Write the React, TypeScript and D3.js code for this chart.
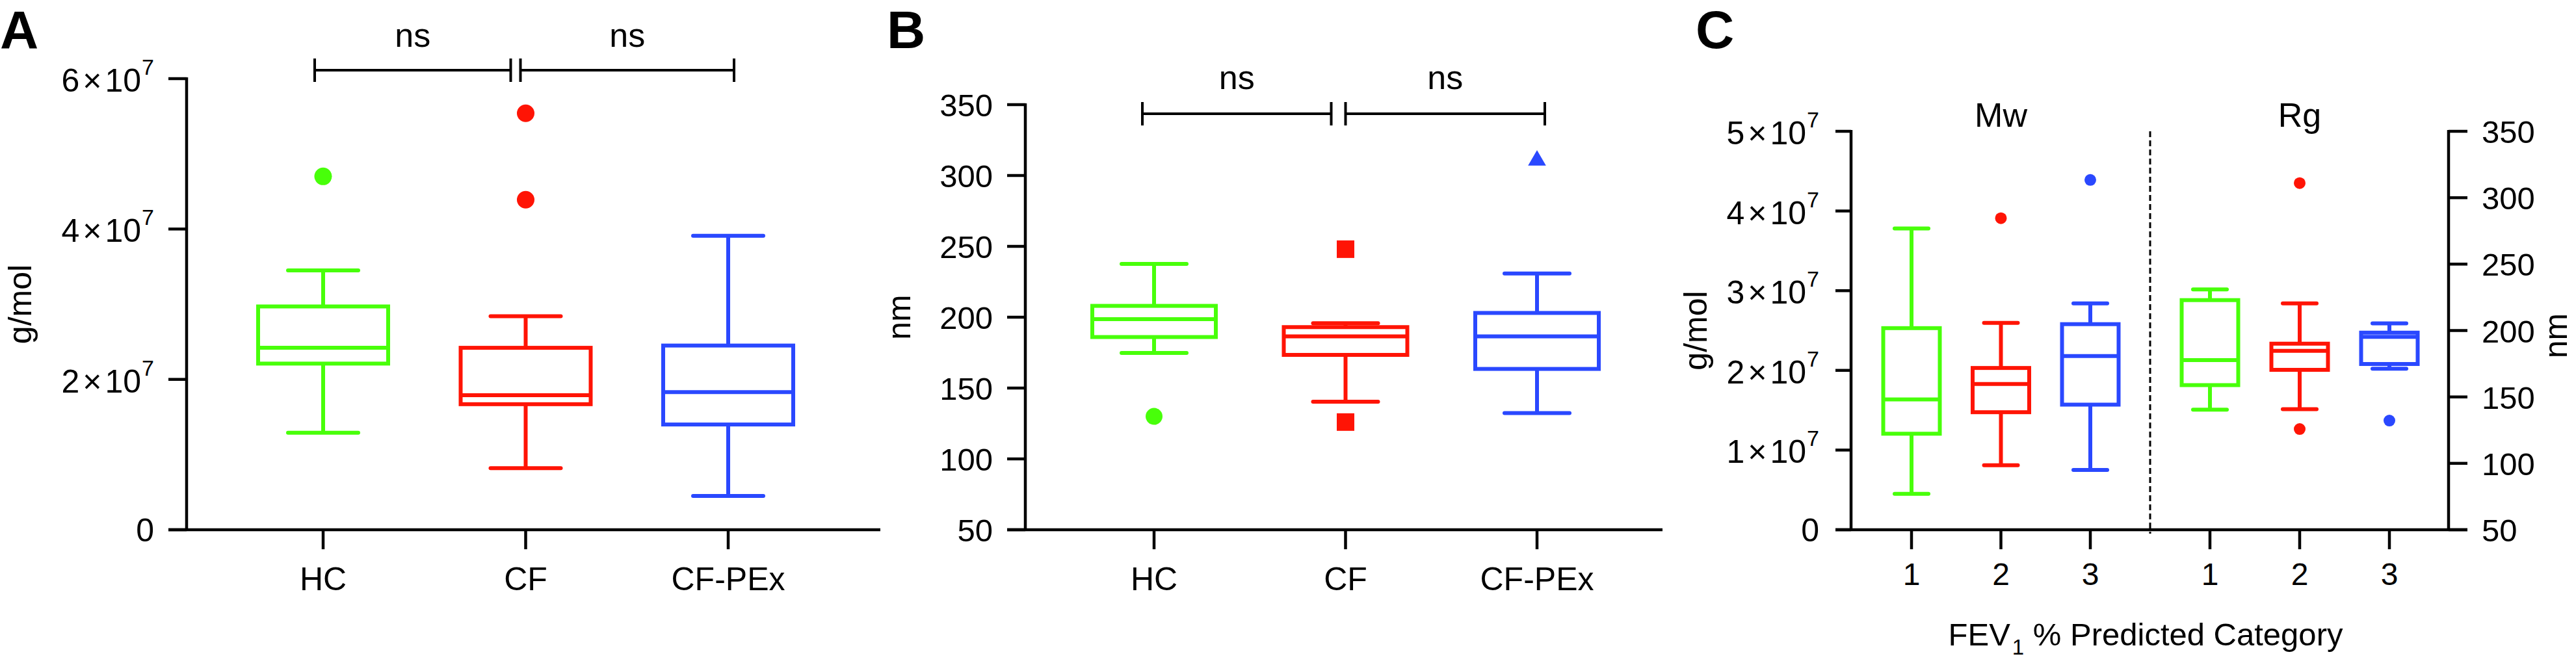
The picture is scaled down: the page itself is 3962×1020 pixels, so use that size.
import React from "react";
import * as d3 from "d3";

// ---------- DATA ----------
const groups = ["HC", "CF", "CF-PEx"];
const groupColors = ["#48ff0a", "#ff1405", "#2a48ff"];

// Panel A: Mw (g/mol)
const mwMin = [12.9e6, 8.2e6, 4.5e6];
const mwQ1 = [22.1e6, 16.7e6, 14.0e6];
const mwMed = [24.2e6, 17.9e6, 18.3e6];
const mwQ3 = [29.7e6, 24.2e6, 24.5e6];
const mwMax = [34.5e6, 28.4e6, 39.1e6];
const mwOutliers = [[47.0e6], [55.4e6, 43.9e6], []];
const mwTicks = [0, 2e7, 4e7, 6e7];

// Panel B: Rg (nm)
const rgMin = [174.8, 140.4, 132.3];
const rgQ1 = [186.0, 173.4, 163.5];
const rgMed = [198.6, 186.5, 186.5];
const rgQ3 = [208.0, 193.0, 203.0];
const rgMax = [237.6, 195.7, 230.8];
const rgOutliers = [[130], [248, 126], [310.6]];
const rgShapes = ["circle", "square", "triangle"];
const rgTicks = [50, 100, 150, 200, 250, 300, 350];

// Panel C: by FEV1 % predicted category
const fevCats = ["1", "2", "3"];
const cMwMin = [4.5e6, 8.1e6, 7.5e6];
const cMwQ1 = [12.05e6, 14.75e6, 15.7e6];
const cMwMed = [16.35e6, 18.3e6, 21.8e6];
const cMwQ3 = [25.3e6, 20.3e6, 25.8e6];
const cMwMax = [37.8e6, 25.95e6, 28.4e6];
const cMwOutliers = [[], [39.1e6], [43.9e6]];
const cRgMin = [140.4, 140.8, 171.3];
const cRgQ1 = [158.9, 170.4, 174.8];
const cRgMed = [177.7, 184.7, 195.2];
const cRgQ3 = [222.9, 190.1, 198.4];
const cRgMax = [230.9, 220.4, 205.4];
const cRgOutliers = [[], [311, 125.8], [132.2]];
const cLeftTicks = [0, 1e7, 2e7, 3e7, 4e7, 5e7];
const cRightTicks = [50, 100, 150, 200, 250, 300, 350];

const FONT = "'Liberation Sans', Arial, Helvetica, sans-serif";
const AX = 4.5;
const BOXW = 6;

function SciLabel({ x, y, v, size }) {
  if (v === 0) {
    return (
      <text x={x} y={y + 18} textAnchor="end" fontSize={size} fontFamily={FONT}>
        0
      </text>
    );
  }
  const k = Math.round(v / 1e7);
  return (
    <text x={x} y={y + 20} textAnchor="end" fontSize={size} fontFamily={FONT}>
      <tspan>{k}</tspan>
      <tspan dx={5}>×</tspan>
      <tspan dx={5}>10</tspan>
      <tspan dx={1} dy={-26} fontSize={34}>7</tspan>
    </text>
  );
}

function BoxPlot({ cx, half, capHalf, min, q1, med, q3, max, y, color }) {
  return (
    <g stroke={color} strokeWidth={BOXW} fill="none">
      <line x1={cx} x2={cx} y1={y(max)} y2={y(q3)} />
      <line x1={cx} x2={cx} y1={y(q1)} y2={y(min)} />
      <line x1={cx - capHalf} x2={cx + capHalf} y1={y(max)} y2={y(max)} strokeLinecap="round" />
      <line x1={cx - capHalf} x2={cx + capHalf} y1={y(min)} y2={y(min)} strokeLinecap="round" />
      <rect x={cx - half} y={y(q3)} width={half * 2} height={y(q1) - y(q3)} />
      <line x1={cx - half} x2={cx + half} y1={y(med)} y2={y(med)} />
    </g>
  );
}

function Marker({ shape, x, y, r, color }) {
  if (shape === "circle") return <circle cx={x} cy={y} r={r} fill={color} />;
  const type = shape === "square" ? d3.symbolSquare : d3.symbolTriangle;
  const size = shape === "square" ? 27 * 27 : 330;
  const d = d3.symbol().type(type).size(size)();
  return <path d={d} transform={`translate(${x},${y})`} fill={color} />;
}

function Bracket({ x1, x2, y, h }) {
  return (
    <g stroke="#000" strokeWidth={4} fill="none">
      <line x1={x1} x2={x2} y1={y} y2={y} />
      <line x1={x1} x2={x1} y1={y - h} y2={y + h} />
      <line x1={x2} x2={x2} y1={y - h} y2={y + h} />
    </g>
  );
}

export default function App() {
  // ----- Panel A -----
  const yA = d3.scaleLinear().domain([0, 6e7]).range([815, 121]);
  const xA = d3.scalePoint().domain(groups).range([497, 1120]);
  const axA = 287;

  // ----- Panel B -----
  const yB = d3.scaleLinear().domain([50, 350]).range([815, 161]);
  const xB = d3.scalePoint().domain(groups).range([1775, 2364]);
  const axB = 1577;

  // ----- Panel C -----
  const yCL = d3.scaleLinear().domain([0, 5e7]).range([815, 202]);
  const yCR = d3.scaleLinear().domain([50, 350]).range([815, 202]);
  const xCMw = d3.scalePoint().domain(fevCats).range([2940, 3215]);
  const xCRg = d3.scalePoint().domain(fevCats).range([3399, 3675]);
  const axCL = 2847;
  const axCR = 3766;

  const tickLen = 28;

  return (
    <svg
      width={3962}
      height={1020}
      style={{ position: "absolute", left: 0, top: 0, background: "#fff" }}
      fontFamily={FONT}
    >
      <rect x={0} y={0} width={3962} height={1020} fill="#fff" />

      {/* ================= Panel A ================= */}
      <text x={0} y={74} fontSize={82} fontWeight="bold" fontFamily={FONT}>A</text>
      <g stroke="#000" strokeWidth={AX}>
        <line x1={axA} x2={axA} y1={yA(6e7) - 2} y2={yA(0)} />
        <line x1={axA - tickLen} x2={1354} y1={yA(0)} y2={yA(0)} />
        {mwTicks.map((t) => (
          <line key={t} x1={axA - tickLen} x2={axA} y1={yA(t)} y2={yA(t)} />
        ))}
        {groups.map((g) => (
          <line key={g} x1={xA(g)} x2={xA(g)} y1={yA(0)} y2={yA(0) + 30} />
        ))}
      </g>
      {mwTicks.map((t) => (
        <SciLabel key={t} x={237} y={yA(t)} v={t} size={50} />
      ))}
      {groups.map((g) => (
        <text key={g} x={xA(g)} y={908} textAnchor="middle" fontSize={50}>{g}</text>
      ))}
      <text transform={`translate(31,${(yA(0) + yA(6e7)) / 2}) rotate(-90)`} textAnchor="middle" dominantBaseline="central" fontSize={50}>g/mol</text>
      {groups.map((g, i) => (
        <BoxPlot key={g} cx={xA(g)} half={100} capHalf={54} min={mwMin[i]} q1={mwQ1[i]} med={mwMed[i]} q3={mwQ3[i]} max={mwMax[i]} y={yA} color={groupColors[i]} />
      ))}
      {groups.map((g, i) =>
        mwOutliers[i].map((v, j) => (
          <Marker key={g + j} shape="circle" x={xA(g)} y={yA(v)} r={13.5} color={groupColors[i]} />
        ))
      )}
      <Bracket x1={xA("HC") - 13} x2={xA("CF") - 23} y={108} h={18} />
      <Bracket x1={xA("CF") - 8} x2={xA("CF-PEx") + 9} y={108} h={18} />
      <text x={(xA("HC") - 13 + xA("CF") - 23) / 2} y={72} textAnchor="middle" fontSize={52}>ns</text>
      <text x={(xA("CF") - 8 + xA("CF-PEx") + 9) / 2} y={72} textAnchor="middle" fontSize={52}>ns</text>

      {/* ================= Panel B ================= */}
      <text x={1364} y={74} fontSize={82} fontWeight="bold" fontFamily={FONT}>B</text>
      <g stroke="#000" strokeWidth={AX}>
        <line x1={axB} x2={axB} y1={yB(350) - 2} y2={yB(50)} />
        <line x1={axB - tickLen} x2={2557} y1={yB(50)} y2={yB(50)} />
        {rgTicks.map((t) => (
          <line key={t} x1={axB - tickLen} x2={axB} y1={yB(t)} y2={yB(t)} />
        ))}
        {groups.map((g) => (
          <line key={g} x1={xB(g)} x2={xB(g)} y1={yB(50)} y2={yB(50) + 30} />
        ))}
      </g>
      {rgTicks.map((t) => (
        <text key={t} x={1527} y={yB(t) + 18} textAnchor="end" fontSize={49}>{t}</text>
      ))}
      {groups.map((g) => (
        <text key={g} x={xB(g)} y={908} textAnchor="middle" fontSize={50}>{g}</text>
      ))}
      <text transform={`translate(1383,${(yB(50) + yB(350)) / 2}) rotate(-90)`} textAnchor="middle" dominantBaseline="central" fontSize={50}>nm</text>
      {groups.map((g, i) => (
        <BoxPlot key={g} cx={xB(g)} half={95} capHalf={50} min={rgMin[i]} q1={rgQ1[i]} med={rgMed[i]} q3={rgQ3[i]} max={rgMax[i]} y={yB} color={groupColors[i]} />
      ))}
      {groups.map((g, i) =>
        rgOutliers[i].map((v, j) => (
          <Marker key={g + j} shape={rgShapes[i]} x={xB(g)} y={yB(v)} r={13} color={groupColors[i]} />
        ))
      )}
      <Bracket x1={xB("HC") - 18} x2={xB("CF") - 22} y={175} h={18} />
      <Bracket x1={xB("CF")} x2={xB("CF-PEx") + 12} y={175} h={18} />
      <text x={(xB("HC") - 18 + xB("CF") - 22) / 2} y={137} textAnchor="middle" fontSize={52}>ns</text>
      <text x={(xB("CF") + xB("CF-PEx") + 12) / 2} y={137} textAnchor="middle" fontSize={52}>ns</text>

      {/* ================= Panel C ================= */}
      <text x={2608} y={74} fontSize={82} fontWeight="bold" fontFamily={FONT}>C</text>
      <g stroke="#000" strokeWidth={AX}>
        <line x1={axCL} x2={axCL} y1={yCL(5e7) - 2} y2={yCL(0)} />
        <line x1={axCR} x2={axCR} y1={yCR(350) - 2} y2={yCR(50)} />
        <line x1={axCL - tickLen + 4} x2={axCR + 29} y1={yCL(0)} y2={yCL(0)} />
        {cLeftTicks.map((t) => (
          <line key={t} x1={axCL - tickLen + 4} x2={axCL} y1={yCL(t)} y2={yCL(t)} />
        ))}
        {cRightTicks.map((t) => (
          <line key={t} x1={axCR} x2={axCR + 29} y1={yCR(t)} y2={yCR(t)} />
        ))}
        {fevCats.map((c) => (
          <line key={"m" + c} x1={xCMw(c)} x2={xCMw(c)} y1={yCL(0)} y2={yCL(0) + 30} />
        ))}
        {fevCats.map((c) => (
          <line key={"r" + c} x1={xCRg(c)} x2={xCRg(c)} y1={yCL(0)} y2={yCL(0) + 30} />
        ))}
      </g>
      <line x1={3307} x2={3307} y1={yCL(5e7)} y2={821} stroke="#000" strokeWidth={3} strokeDasharray="9 5" />
      {cLeftTicks.map((t) => (
        <SciLabel key={t} x={2798} y={yCL(t)} v={t} size={50} />
      ))}
      {cRightTicks.map((t) => (
        <text key={t} x={3817} y={yCR(t) + 18} textAnchor="start" fontSize={49}>{t}</text>
      ))}
      {fevCats.map((c) => (
        <text key={"ml" + c} x={xCMw(c)} y={900} textAnchor="middle" fontSize={48}>{c}</text>
      ))}
      {fevCats.map((c) => (
        <text key={"rl" + c} x={xCRg(c)} y={900} textAnchor="middle" fontSize={48}>{c}</text>
      ))}
      <text x={xCMw("2")} y={195} textAnchor="middle" fontSize={52}>Mw</text>
      <text x={xCRg("2")} y={195} textAnchor="middle" fontSize={52}>Rg</text>
      <text transform={`translate(2608,${(yCL(0) + yCL(5e7)) / 2}) rotate(-90)`} textAnchor="middle" dominantBaseline="central" fontSize={50}>g/mol</text>
      <text transform={`translate(3948,${(yCR(50) + yCR(350)) / 2 + 8}) rotate(-90)`} textAnchor="middle" fontSize={50}>nm</text>
      <text x={3300} y={993} textAnchor="middle" fontSize={49} fill="#000">
        FEV<tspan dx={3} dy={14} fontSize={33} fill="#000">1</tspan>
        <tspan dy={-14} fill="#000"> % Predicted Category</tspan>
      </text>
      {fevCats.map((c, i) => (
        <BoxPlot key={"mw" + c} cx={xCMw(c)} half={43.5} capHalf={26} min={cMwMin[i]} q1={cMwQ1[i]} med={cMwMed[i]} q3={cMwQ3[i]} max={cMwMax[i]} y={yCL} color={groupColors[i]} />
      ))}
      {fevCats.map((c, i) =>
        cMwOutliers[i].map((v, j) => (
          <Marker key={"mwo" + c + j} shape="circle" x={xCMw(c)} y={yCL(v)} r={9} color={groupColors[i]} />
        ))
      )}
      {fevCats.map((c, i) => (
        <BoxPlot key={"rg" + c} cx={xCRg(c)} half={43.5} capHalf={26} min={cRgMin[i]} q1={cRgQ1[i]} med={cRgMed[i]} q3={cRgQ3[i]} max={cRgMax[i]} y={yCR} color={groupColors[i]} />
      ))}
      {fevCats.map((c, i) =>
        cRgOutliers[i].map((v, j) => (
          <Marker key={"rgo" + c + j} shape="circle" x={xCRg(c)} y={yCR(v)} r={9} color={groupColors[i]} />
        ))
      )}
    </svg>
  );
}
